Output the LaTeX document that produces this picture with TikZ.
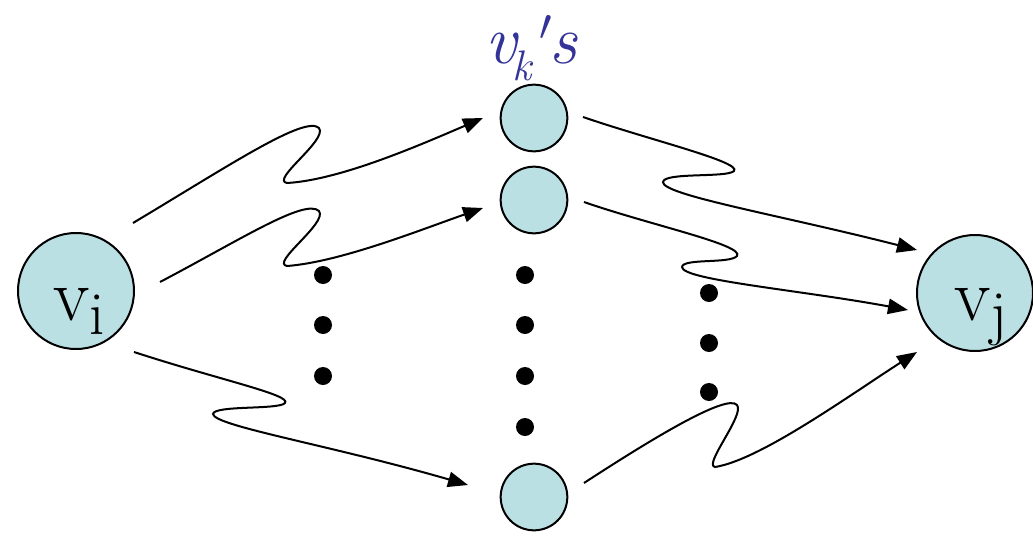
\documentclass[tikz,border=0pt]{standalone}
\usepackage{fix-cm}
\usepackage{fontspec}
\usetikzlibrary{arrows.meta}
\definecolor{nodefill}{RGB}{187,224,227}
\definecolor{labelblue}{RGB}{51,51,153}
\begin{document}
\begin{tikzpicture}[x=0.75pt,y=-0.75pt,
  bignode/.style={circle,draw=black,line width=1.5pt,fill=nodefill,minimum size=87pt,inner sep=0pt},
  smallnode/.style={circle,draw=black,line width=1.5pt,fill=nodefill,minimum size=50pt,inner sep=0pt},
  bigdot/.style={circle,fill=black,minimum size=13.5pt,inner sep=0pt},
  wiggle/.style={line width=1.5pt,-{Triangle[length=15pt,width=11.5pt]}},
  lab/.style={anchor=base west,inner sep=0pt}]
\useasboundingbox (0,0) rectangle (1033,536);

% nodes
\node[bignode] (vi) at (76,291) {};
\node[bignode] (vj) at (975,293) {};
\node[smallnode] (k1) at (534,118) {};
\node[smallnode] (k2) at (534,200) {};
\node[smallnode] (k3) at (534,497) {};

% node labels
\node[lab] (vilab) at (53,320)
  {\fontsize{56}{60}\selectfont v\raisebox{-11pt}{\fontsize{46}{50}\selectfont i}};
\node[lab] (vjlab) at (954,320)
  {\fontsize{56}{60}\selectfont v\raisebox{-10pt}{\fontsize{46}{50}\selectfont j}};
\node[lab,text=labelblue] (vklab) at (485,63)
  {\fontsize{52}{60}\selectfont\itshape v\kern-3pt\raisebox{-13pt}{\fontsize{32}{36}\selectfont k}\kern6pt\rlap{\raisebox{17pt}{\fontsize{48}{52}\selectfont$\scriptstyle\prime$}}\kern7pt s};

% dots
\foreach \y [count=\n] in {275,325,376} \node[bigdot] (ld\n) at (323,\y) {};
\foreach \y [count=\n] in {275,325,376,427} \node[bigdot] (md\n) at (525,\y) {};
\foreach \y [count=\n] in {293,343,392} \node[bigdot] (rd\n) at (709,\y) {};

% connector end points
\coordinate (s1) at (133,223);
\coordinate (e1) at (483,118);
\coordinate (s2) at (160,282);
\coordinate (e2) at (483,208);
\coordinate (s3) at (134,352);
\coordinate (e3) at (468,485);
\coordinate (s4) at (583,117);
\coordinate (e4) at (917,250);
\coordinate (s5) at (584,202);
\coordinate (e5) at (908,310);
\coordinate (s6) at (584,483);
\coordinate (e6) at (917,352);

% connectors
\draw[wiggle] (s1) .. controls (230,165) and (305,115) .. (319,128)
  .. controls (328,140) and (270,180) .. (287,183)
  .. controls (340,180) and (420,145) .. (e1);
\draw[wiggle] (s2) .. controls (240,240) and (305,198) .. (319,211)
  .. controls (328,223) and (270,263) .. (287,266)
  .. controls (340,262) and (420,230) .. (e2);
\draw[wiggle] (s3) .. controls (220,380) and (292,395) .. (285,403)
  .. controls (279,410) and (214,405) .. (213,414)
  .. controls (214,426) and (330,445) .. (e3);
\draw[wiggle] (s4) .. controls (650,140) and (742,162) .. (734,171)
  .. controls (727,178) and (664,172) .. (663,182)
  .. controls (662,195) and (780,215) .. (e4);
\draw[wiggle] (s5) .. controls (650,225) and (745,245) .. (737,256)
  .. controls (730,264) and (683,258) .. (682,267)
  .. controls (682,280) and (800,290) .. (e5);
\draw[wiggle] (s6) .. controls (650,440) and (727,393) .. (737,405)
  .. controls (745,415) and (703,465) .. (715,467)
  .. controls (760,460) and (850,395) .. (e6);
\end{tikzpicture}
\end{document}
